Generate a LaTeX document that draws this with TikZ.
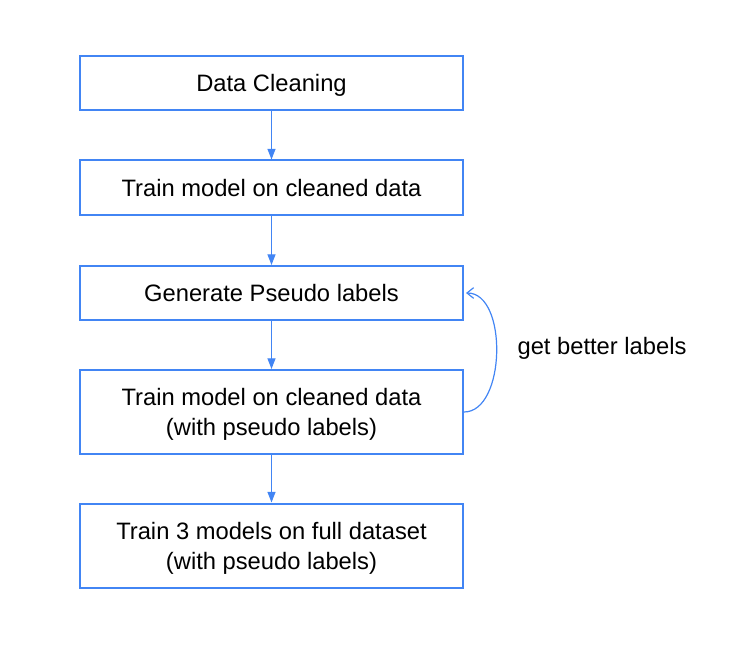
\documentclass[tikz,border=0pt]{standalone}
\usepackage{fontspec}
\setmainfont{Liberation Sans}
\usepackage{xcolor}
\usetikzlibrary{arrows.meta,positioning}
\definecolor{flowblue}{RGB}{66, 133, 244}

\begin{document}
\begin{tikzpicture}[x=0.75pt, y=-0.75pt,
    stepbox/.style={draw=flowblue, line width=1.5pt, fill=white, minimum width=287.25pt, minimum height=40.5pt, align=center, font=\fontsize{17.8}{22.5}\selectfont, inner sep=0pt, text depth=0pt},
    tallbox/.style={stepbox, minimum height=63pt},
    flow/.style={draw=flowblue, line width=0.9pt, -{Triangle[length=8pt, width=6pt]}}]
        \useasboundingbox (0, 0) rectangle (742, 649);

        % Pipeline steps
        \node[stepbox] (clean) at (271.5, 83) {Data Cleaning};
        \node[stepbox] (train) at (271.5, 187.5) {Train model on cleaned data};
        \node[stepbox] (pseudo) at (271.5, 293) {Generate Pseudo labels};
        \node[tallbox] (retrain) at (271.5, 412) {Train model on cleaned data\\(with pseudo labels)};
        \node[tallbox] (full) at (271.5, 545.5) {Train 3 models on full dataset\\(with pseudo labels)};

        % Arrows between steps
        \draw[flow] (clean) -- (train);
        \draw[flow] (train) -- (pseudo);
        \draw[flow] (pseudo) -- (retrain);
        \draw[flow] (retrain) -- (full);

        % Feedback loop
        \draw[draw=flowblue, line width=0.9pt, -{Straight Barb[length=5pt, width=8pt]}] (retrain.east) .. controls +(42, 0) and +(42, 0) .. ([xshift=1.5pt]pseudo.east);
        \node[font=\fontsize{17.8}{22.5}\selectfont, text depth=0pt] (loop) at (602, 346) {get better labels};
    \end{tikzpicture}
\end{document}
